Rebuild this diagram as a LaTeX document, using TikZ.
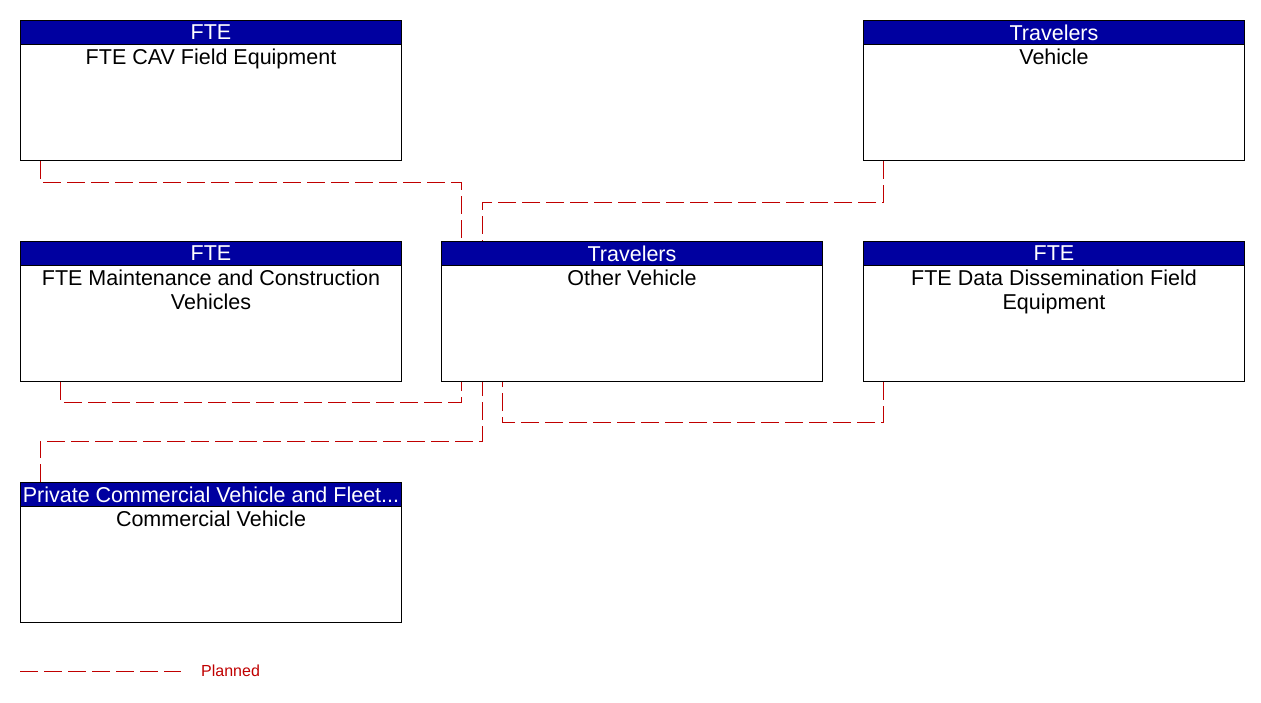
\documentclass[tikz,border=0pt]{standalone}
\usepackage{fontspec}
\setmainfont{Liberation Sans}
\usepackage{tikz}
\usetikzlibrary{positioning,calc}
\definecolor{HeaderNavy}{HTML}{0000A0}
\definecolor{PlannedRed}{HTML}{C00000}

\tikzset{
  bodybox/.style={draw=black,line width=1pt,fill=white,minimum width=381pt,
    minimum height=140pt,inner sep=0pt,anchor=north west},
  headbar/.style={draw=black,line width=1pt,fill=HeaderNavy,minimum width=381pt,
    minimum height=24pt,inner sep=0pt,anchor=north,text=white,font=\fontsize{21.5}{24}\selectfont},
  bodytext/.style={anchor=north,align=center,inner sep=0pt,
    font=\fontsize{21.5}{24}\selectfont},
  planned/.style={PlannedRed,line width=1pt,dash pattern=on 18pt off 6pt}
}

% element box: name, top-left corner, stakeholder, element
\newcommand{\archbox}[4]{%
  \node[bodybox] (#1) at (#2) {};
  \node[headbar] (#1-head) at (#1.north) {#3};
  \node[bodytext] (#1-text) at ([yshift=-4pt]#1-head.south) {#4};
}

\begin{document}
\begin{tikzpicture}[x=1pt,y=-1pt]
    \useasboundingbox (0,0) rectangle (1261,702);
    \archbox{cav}{20,20}{FTE}{FTE CAV Field Equipment}
    \archbox{vehicle}{863,20}{Travelers}{Vehicle}
    \archbox{maint}{20,241}{FTE}{FTE Maintenance and Construction\\Vehicles}
    \archbox{other}{441,241}{Travelers}{Other Vehicle}
    \archbox{dissem}{863,241}{FTE}{FTE Data Dissemination Field\\Equipment}
    \archbox{commveh}{20,482}{Private Commercial Vehicle and Fleet...}{Commercial Vehicle}
    % flows to and from the other vehicle
    \draw[planned] ([xshift=20pt]cav.south west) -- ++(0,21) -| ([xshift=20pt]other.north west);
    \draw[planned] ([xshift=20pt]vehicle.south west) -- ++(0,41) -| ([xshift=41pt]other.north west);
    \draw[planned] ([xshift=40pt]maint.south west) -- ++(0,20) -| ([xshift=20pt]other.south west);
    \draw[planned] ([xshift=20pt]commveh.north west) -- ++(0,-41) -| ([xshift=41pt]other.south west);
    \draw[planned] ([xshift=20pt]dissem.south west) -- ++(0,40) -| ([xshift=61pt]other.south west);
    % legend
    \coordinate (legstart) at (20,671);
    \coordinate (legend) at (181,671);
    \draw[planned] (legstart) -- (legend);
    \node[right=20pt of legend,inner sep=0pt,text=PlannedRed,font=\fontsize{16}{18}\selectfont] (legtext) {Planned};
  \end{tikzpicture}
\end{document}
